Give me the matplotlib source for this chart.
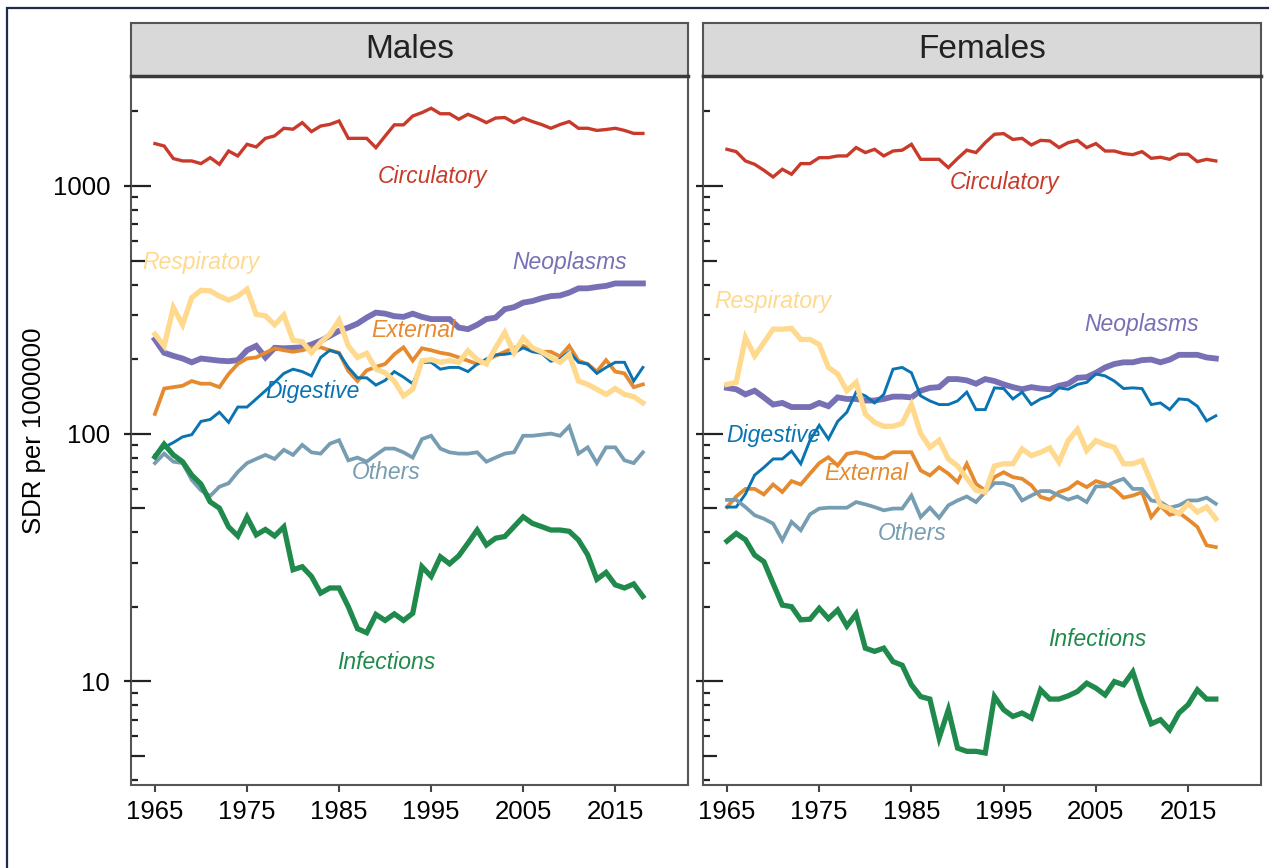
import matplotlib
matplotlib.use('Agg')
from matplotlib import pyplot as plt
from matplotlib.patches import Rectangle
from matplotlib.ticker import FixedLocator, NullFormatter

plt.rcParams['font.family'] = ['Liberation Sans', 'DejaVu Sans']

years = list(range(1965, 2019))

# Males, SDR
m_circ = [1483, 1450, 1290, 1262, 1262, 1231, 1301, 1223, 1384, 1322,
          1473, 1437, 1557, 1593, 1710, 1695, 1802, 1658, 1746, 1773,
          1830, 1557, 1557, 1557, 1428, 1590, 1765, 1765, 1916, 1978,
          2060, 1957, 1957, 1859, 1947, 1880, 1802, 1880, 1890, 1802,
          1880, 1820, 1770, 1710, 1770, 1820, 1710, 1710, 1676, 1690,
          1710, 1676, 1630, 1630]
m_neo = [240, 212, 206, 201, 194, 201, 199, 197, 196, 198,
         217, 226, 203, 222, 221, 222, 223, 229, 237, 248,
         260, 268, 278, 294, 308, 305, 298, 296, 305, 296,
         290, 290, 290, 268, 264, 275, 290, 294, 318, 324,
         338, 343, 352, 359, 361, 371, 386, 386, 391, 395,
         404, 404, 404, 404]
m_resp = [252, 226, 323, 275, 354, 379, 377, 359, 346, 359,
          383, 303, 299, 275, 301, 238, 235, 212, 234, 252,
          287, 226, 203, 211, 182, 176, 163, 142, 151, 197,
          199, 194, 197, 194, 216, 199, 191, 222, 256, 212,
          243, 222, 214, 203, 194, 209, 163, 158, 151, 144,
          152, 144, 141, 133]
m_ext = [120, 152, 154, 156, 163, 159, 159, 154, 174, 191,
         201, 203, 212, 221, 217, 214, 217, 222, 223, 217,
         212, 179, 163, 180, 186, 191, 209, 223, 197, 221,
         217, 212, 209, 203, 197, 191, 198, 206, 214, 222,
         226, 217, 214, 214, 205, 226, 197, 191, 178, 198,
         178, 175, 154, 158]
m_dig = [82, 88, 92, 97, 99, 112, 114, 122, 111, 128,
         128, 138, 149, 161, 175, 182, 178, 171, 203, 217,
         211, 185, 168, 168, 157, 164, 178, 169, 159, 194,
         194, 182, 185, 185, 178, 191, 200, 208, 209, 212,
         222, 214, 211, 196, 200, 214, 194, 191, 175, 185,
         194, 194, 163, 185]
m_oth = [76, 83, 77, 76, 65, 59, 56, 61, 63, 70,
         76, 79, 82, 79, 86, 82, 90, 84, 83, 91,
         94, 78, 80, 77, 82, 87, 87, 84, 80, 95,
         98, 87, 84, 83, 83, 84, 77, 80, 83, 84,
         98, 98, 99, 100, 98, 107, 83, 88, 76, 88,
         88, 78, 76, 84]
m_inf = [80.5, 90.6, 82, 77, 68, 62.5, 53, 50, 42, 38.6,
         46, 39, 41, 38.6, 42, 28.2, 29, 26.5, 22.7, 23.8,
         23.8, 20, 16.3, 15.7, 18.6, 17.6, 18.7, 17.6, 18.8, 29,
         26.5, 31.8, 29.8, 32.1, 36.1, 40.8, 35.5, 37.8, 38.4, 42.1,
         46.1, 43.4, 42.1, 40.8, 40.8, 40.3, 37.2, 32.4, 25.8, 27.5,
         24.5, 23.8, 24.7, 22]

# Females
f_circ = [1406, 1376, 1262, 1223, 1157, 1087, 1168, 1115, 1231, 1231,
          1301, 1301, 1322, 1322, 1429, 1364, 1406, 1322, 1384, 1395,
          1473, 1281, 1281, 1281, 1186, 1291, 1395, 1364, 1496, 1617,
          1627, 1541, 1557, 1464, 1528, 1520, 1429, 1496, 1528, 1429,
          1483, 1384, 1384, 1351, 1338, 1376, 1293, 1306, 1281, 1343,
          1343, 1254, 1281, 1262]
f_neo = [153, 151, 144, 149, 140, 131, 133, 128, 128, 128,
         133, 129, 140, 138, 138, 136, 136, 138, 141, 141,
         140, 149, 153, 154, 166, 166, 164, 159, 166, 163,
         158, 154, 151, 154, 152, 151, 156, 159, 168, 169,
         176, 185, 191, 194, 194, 198, 199, 194, 199, 208,
         208, 208, 203, 201]
f_resp = [158, 161, 244, 206, 233, 264, 264, 266, 240, 240,
          229, 185, 174, 149, 161, 120, 111, 107, 107, 110,
          131, 100, 88, 94, 79, 74, 66, 59, 58, 74,
          75.5, 75.5, 86.7, 81.5, 84, 87.5, 76.7, 93.7, 104, 85.4,
          93.7, 90.3, 88, 75.5, 75.5, 77.8, 63.7, 51.3, 49.8, 47.5,
          52.1, 48.2, 50.5, 45.3]
f_ext = [50.5, 55.7, 59.8, 59.8, 56.8, 62.3, 58.1, 64.3, 62.3, 68.9,
         76, 80.3, 74.3, 82.8, 84.1, 82.8, 79.8, 79.8, 84.1, 84.1,
         84.1, 71, 67.8, 73.1, 68.9, 63.7, 75.5, 62.7, 58.9, 66.7,
         69.8, 66.7, 65.7, 61.8, 55.5, 54.1, 58.1, 59.8, 63.7, 60.8,
         64.3, 62.7, 59.8, 55.1, 56.2, 58, 46, 51, 47, 48,
         45, 42, 35.4, 34.8]
f_dig = [50.5, 50.5, 57, 68, 73, 79, 79, 85, 75.5, 94,
         108, 95, 112, 122, 147, 142, 133, 144, 182, 185,
         176, 142, 135.5, 131, 131, 135.5, 147, 125, 125, 153,
         152, 138, 147, 131, 138, 142, 153, 151, 158, 161,
         174, 171, 163, 152, 153, 152, 131, 133, 125, 138,
         137, 129, 112.5, 118]
f_oth = [54, 54, 50.5, 46.8, 45.3, 43.3, 37.1, 44, 40.7, 47.2,
         49.8, 50.2, 50.2, 50.2, 52.9, 51.8, 50.5, 49, 49.8, 49.8,
         56.2, 46, 50.2, 45.7, 51.3, 53.7, 55.7, 52.9, 58.1, 63.1,
         63.1, 61.2, 53.7, 56.2, 58.6, 58.6, 56.2, 54.1, 55.7, 52.9,
         61.2, 61.2, 63.7, 65.7, 59.8, 59.8, 53.7, 52.9, 50.2, 51.3,
         53.7, 53.7, 55.1, 52.1]
f_inf = [36.8, 39.5, 37.3, 32.3, 30.4, 24.8, 20.3, 20, 17.7, 17.8,
         19.7, 17.9, 19.4, 16.7, 18.7, 13.6, 13.2, 13.6, 12, 11.6,
         9.67, 8.67, 8.47, 5.9, 7.67, 5.37, 5.21, 5.21, 5.13, 8.67,
         7.67, 7.21, 7.44, 7.1, 9.23, 8.47, 8.47, 8.73, 9.09, 9.82,
         9.38, 8.8, 9.97, 9.67, 10.9, 8.4, 6.73, 6.99, 6.37, 7.44,
         8.04, 9.23, 8.47, 8.47]

causes = ['Neoplasms', 'External', 'Digestive', 'Others', 'Respiratory', 'Infections', 'Circulatory']
colors = {'Circulatory': '#c83b2b', 'Neoplasms': '#7870b4', 'Respiratory': '#ffd98e',
          'External': '#e58a2e', 'Digestive': '#0a74b3', 'Others': '#779db3',
          'Infections': '#1f8a4c'}
widths = {'Circulatory': 2.4, 'Neoplasms': 4.2, 'Respiratory': 3.8, 'External': 2.7,
          'Digestive': 2.1, 'Others': 2.7, 'Infections': 3.8}

males = {'Circulatory': m_circ, 'Neoplasms': m_neo, 'Respiratory': m_resp, 'External': m_ext,
         'Digestive': m_dig, 'Others': m_oth, 'Infections': m_inf}
females = {'Circulatory': f_circ, 'Neoplasms': f_neo, 'Respiratory': f_resp, 'External': f_ext,
           'Digestive': f_dig, 'Others': f_oth, 'Infections': f_inf}

# where the cause names sit (year, value)
m_labels = {'Circulatory': (1995.1, 1087), 'Respiratory': (1970.0, 490), 'Neoplasms': (2010.0, 490),
            'External': (1993.1, 261), 'Digestive': (1982.1, 148), 'Others': (1990.1, 69.5),
            'Infections': (1990.1, 11.9)}
f_labels = {'Circulatory': (1995.1, 1031), 'Respiratory': (1970.0, 343), 'Neoplasms': (2010.0, 275),
            'Digestive': (1970.0, 98.2), 'External': (1980.1, 68.9), 'Others': (1985.1, 39.5),
            'Infections': (2005.1, 14.8)}

W, H = 1269, 868
fig = plt.figure(figsize=(W / 100, H / 100), dpi=100)

#navy frame round the figure
fig.add_artist(Rectangle((7 / W, -1), 2, 2 - 8 / H, transform=fig.transFigure,
                         fill=False, edgecolor='#1f2b4a', lw=1.6))

edge = '#555555'
top_px, bot_px, strip_px = 76, 785, 53
minor_vals = [4, 6, 7, 8, 9, 20, 30, 40, 60, 70, 80, 90, 200, 300, 400, 600, 700, 800, 900, 2000]


def panel(x0, x1, data, labels, title, first):
    ax = fig.add_axes([x0 / W, 1 - bot_px / H, (x1 - x0) / W, (bot_px - top_px) / H])
    for c in causes:
        ax.plot(years, data[c], color=colors[c], lw=widths[c], solid_joinstyle='miter', zorder=2)
    for c, (x, y) in labels.items():
        ax.text(x, y, c, color=colors[c], fontsize=16.5, style='italic',
                ha='center', va='center', zorder=5)
    ax.set_yscale('log')
    ax.set_ylim(3.81, 2780)
    ax.set_xlim(1962.4, 2022.9)
    ax.yaxis.set_major_locator(FixedLocator([10, 100, 1000]))
    ax.yaxis.set_minor_locator(FixedLocator(minor_vals))
    ax.yaxis.set_minor_formatter(NullFormatter())
    ax.set_yticklabels(['10', '100', '1000'])
    ax.set_xticks([1965, 1975, 1985, 1995, 2005, 2015])
    ax.tick_params(axis='y', which='major', direction='in', length=14.5, width=1.6,
                   labelsize=18.5, pad=15, color='#222222', labelleft=first)
    ax.tick_params(axis='y', which='minor', direction='in', length=5, width=1.6, color='#222222')
    ax.tick_params(axis='x', direction='out', length=5, width=1.5, labelsize=18.5, pad=6,
                   color='#444444')
    for s in ax.spines.values():
        s.set_color(edge)
        s.set_linewidth(1.5)
    if first:
        ax.set_ylabel('SDR per 1000000', fontsize=18.5)
        ax.yaxis.set_label_coords(-0.152, 0.5)

    # medium ticks at 5s and the outside part of the decade ticks
    ax2 = ax.twinx()
    ax2.set_yscale('log')
    ax2.set_ylim(ax.get_ylim())
    ax2.yaxis.set_ticks_position('left')
    ax2.yaxis.set_major_locator(FixedLocator([5, 50, 500]))
    ax2.yaxis.set_minor_locator(FixedLocator([10, 100, 1000]))
    ax2.yaxis.set_major_formatter(NullFormatter())
    ax2.yaxis.set_minor_formatter(NullFormatter())
    ax2.tick_params(which='major', direction='in', length=10, width=1.6, color='#222222')
    ax2.tick_params(which='minor', direction='out', length=5, width=1.6, color='#222222')
    for s in ax2.spines.values():
        s.set_visible(False)

    # strip on top
    sx = fig.add_axes([x0 / W, 1 - top_px / H, (x1 - x0) / W, strip_px / H])
    sx.set_facecolor('#d9d9d9')
    sx.set_xticks([])
    sx.set_yticks([])
    for s in sx.spines.values():
        s.set_color(edge)
        s.set_linewidth(1.5)
    sx.spines['bottom'].set_color('#3a3a3a')
    sx.spines['bottom'].set_linewidth(2.5)
    sx.text(0.5, 0.5, title, fontsize=24, ha='center', va='center', transform=sx.transAxes,
            color='#222222')


panel(131, 688, males, m_labels, 'Males', True)
panel(703, 1261, females, f_labels, 'Females', False)

fig.savefig('out.png', dpi=100, facecolor='white')
